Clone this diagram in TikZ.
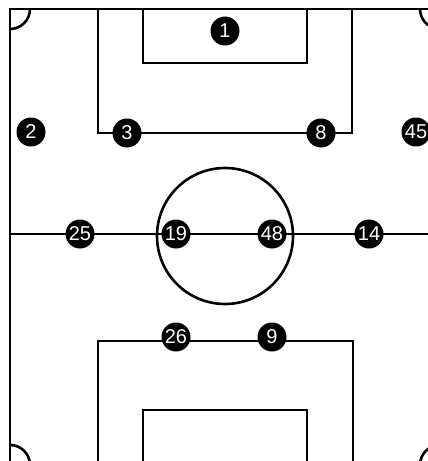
\documentclass[tikz,border=0pt]{standalone}
\usepackage{fontspec}
\setmainfont{Liberation Sans}
\begin{document}
\begin{tikzpicture}[x=1pt,y=-1pt,
  fieldline/.style={line width=2.6pt,line join=miter,black},
  player/.style={circle,fill=black,inner sep=0pt,minimum size=29pt,text=white,
    font=\fontsize{20}{20}\selectfont}]
\useasboundingbox (0,0) rectangle (428,461);
\clip (0,0) rectangle (428,461);
% field outline
\draw[fieldline] (10,465) -- (10,9) -- (440,9) -- (440,465) -- cycle;
% corner arcs
\draw[fieldline] (30,9) arc[start angle=0,end angle=90,radius=20];
\draw[fieldline] (420,9) arc[start angle=180,end angle=90,radius=20];
\draw[fieldline] (10,445) arc[start angle=-90,end angle=0,radius=20];
\draw[fieldline] (440,445) arc[start angle=-90,end angle=-180,radius=20];
% halfway line and centre circle
\draw[fieldline] (10,234) -- (440,234);
\draw[fieldline] (225,236) circle[radius=68];
% top boxes
\draw[fieldline] (98,9) -- (98,133) -- (352,133) -- (352,9);
\draw[fieldline] (143,9) -- (143,63) -- (307,63) -- (307,9);
% bottom boxes
\draw[fieldline] (98,465) -- (98,341) -- (353,341) -- (353,465);
\draw[fieldline] (143,465) -- (143,410) -- (307,410) -- (307,465);
% players
\node[player] (p1) at (225,31) {1};
\node[player] (p2) at (31,132) {2};
\node[player] (p3) at (127,133) {3};
\node[player] (p8) at (321,133) {8};
\node[player] (p45) at (416,132) {45};
\node[player] (p25) at (80,234) {25};
\node[player] (p19) at (176,234) {19};
\node[player] (p48) at (272,234) {48};
\node[player] (p14) at (369,234) {14};
\node[player] (p26) at (176,337) {26};
\node[player] (p9) at (272,337) {9};
\end{tikzpicture}
\end{document}
